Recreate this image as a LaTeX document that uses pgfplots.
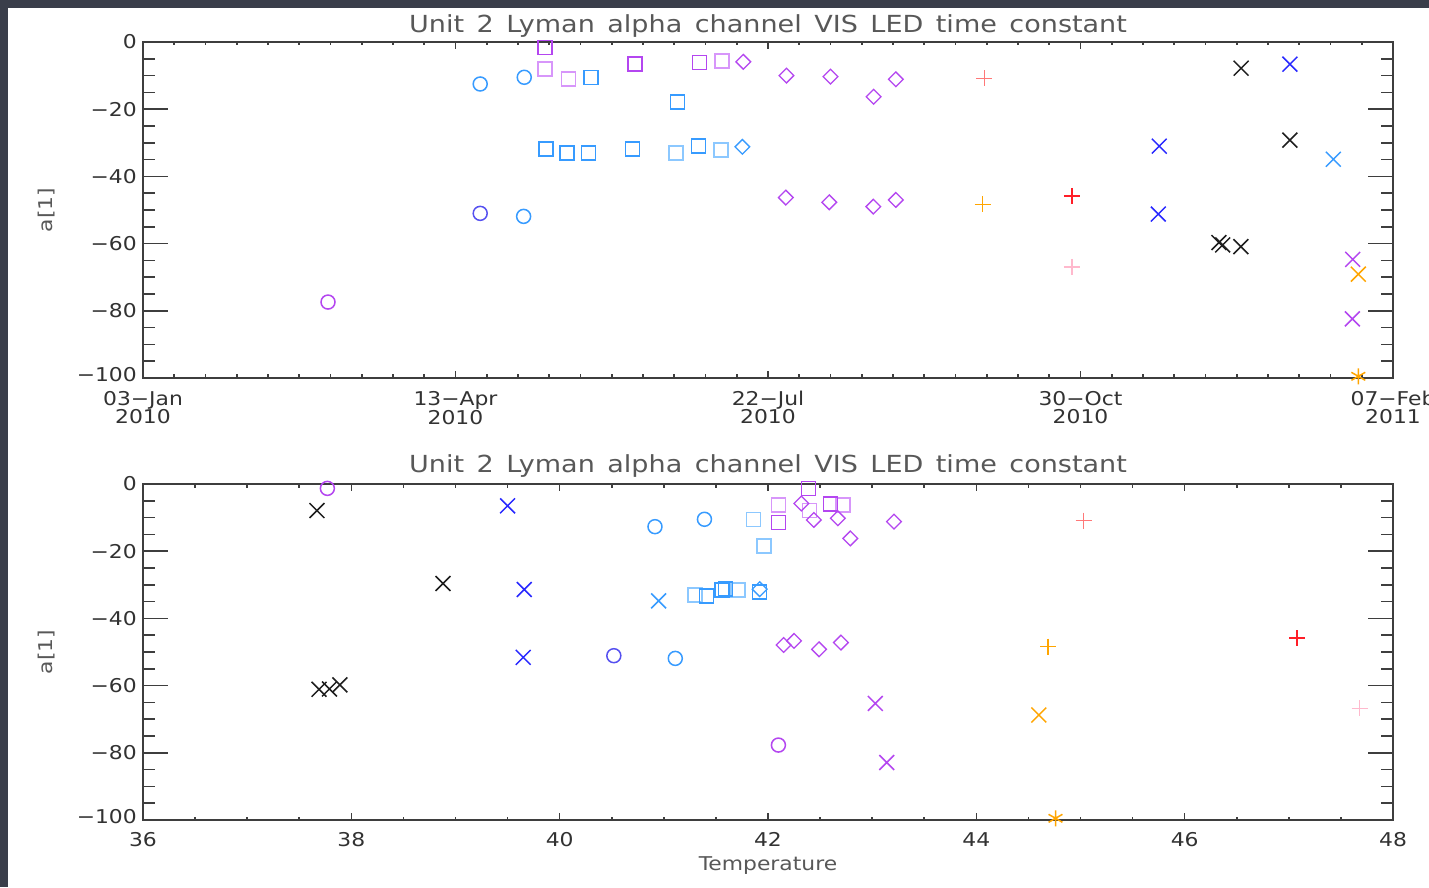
\documentclass[border=0pt]{standalone}
\usepackage{fontspec}
\setmainfont{DejaVu Sans}[FakeStretch=1.15]
\usepackage{pgfplots}
\pgfplotsset{compat=1.18}
\definecolor{bgdark}{RGB}{58,62,74}
\definecolor{axc}{RGB}{62,62,62}
\definecolor{tickc}{RGB}{50,50,50}
\definecolor{titc}{RGB}{88,88,88}
\definecolor{vio}{RGB}{180,70,240}
\definecolor{lvio}{RGB}{215,150,250}
\definecolor{lblue}{RGB}{55,155,255}
\definecolor{llblue}{RGB}{140,200,255}
\definecolor{dblue}{RGB}{40,40,255}
\definecolor{cblue}{RGB}{85,80,240}
\definecolor{blk}{RGB}{30,30,30}
\definecolor{red1}{RGB}{255,30,40}
\definecolor{lred}{RGB}{255,120,120}
\definecolor{pink1}{RGB}{255,185,205}
\definecolor{orng}{RGB}{255,165,0}
\newcommand{\tickfont}{\fontsize{19}{18}\selectfont}
\newcommand{\titlefont}{\fontsize{23.5}{26}\selectfont}
\pgfplotsset{
  base/.style={scale only axis, width=1250pt, height=336pt, ymin=-100, ymax=0,
    clip=false, tick align=inside,
    axis line style={draw=axc, line width=1.8pt},
    tick style={draw=axc, line width=1.6pt},
    every axis title/.style={at={(0.5,1)}, anchor=base, font=\titlefont, text=titc},
  },
  xpart/.style={ytick=\empty, major tick length=7pt, minor tick length=3.5pt},
  ypart/.style={xtick=\empty, ytick={-100,-80,-60,-40,-20,0},
    yticklabels={\raisebox{7pt}{−100},−80,−60,−40,−20,\raisebox{-7pt}{0}},
    minor y tick num=3, major tick length=25pt, minor tick length=12pt,
    axis line style={draw=none},
    yticklabel style={anchor=east, inner sep=0pt, xshift=-6pt, font=\tickfont, text=tickc},
    ylabel={a[1]},
    every axis y label/.style={at={(axis description cs:0,0.5)}, xshift=-96pt, rotate=90, anchor=center, font=\tickfont, text=titc},
  },
  circ/.style={only marks, mark=o, mark size=7pt, mark options={line width=1.5pt, solid, draw=#1}, color=#1},
  sq/.style={only marks, mark=square, mark size=7pt, mark options={line width=1.5pt, solid, draw=#1}, color=#1},
  dia/.style={only marks, mark=square, mark size=5.2pt, mark options={line width=1.3pt, solid, rotate=45, draw=#1}, color=#1},
  crs/.style={only marks, mark=x, mark size=10.5pt, mark options={line width=1.5pt, solid, draw=#1}, color=#1},
  pls/.style={only marks, mark=+, mark size=8pt, mark options={line width=1.5pt, solid, draw=#1}, color=#1},
  ast/.style={only marks, mark=asterisk, mark size=8pt, mark options={line width=1.5pt, solid, draw=#1}, color=#1},
}
\begin{document}
\begin{tikzpicture}[x=1pt,y=1pt]
\useasboundingbox (0,0) rectangle (1429,887);
\clip (0,0) rectangle (1429,887);
\fill[bgdark] (0,0) rectangle (1429,887);
\fill[white] (8,0) rectangle (1429,879);

% ---------------- top panel: time ----------------
\begin{axis}[base, xpart, at={(143pt,509pt)}, anchor=south west,
  xmin=0, xmax=400, xtick={0,100,200,300,400}, minor x tick num=9,
  xticklabels={{03−Jan\\2010},{13−Apr\\2010},{22−Jul\\2010},{30−Oct\\2010},{07−Feb\\2011}},
  xticklabel style={align=center, font=\tickfont, text=tickc, anchor=north, inner sep=0pt, yshift=-13pt},
  title={Unit\, 2\, Lyman\, alpha\, channel\, VIS\, LED\, time\, constant},
  title style={yshift=9pt}]
\addplot[circ=vio] coordinates {(59.2,-77.4)};
\addplot[circ=lblue] coordinates {(107.9,-12.5) (122.0,-10.5) (121.8,-51.9)};
\addplot[circ=cblue] coordinates {(107.9,-51.0)};
\addplot[sq=vio] coordinates {(128.6,-1.6) (157.5,-6.6) (178.0,-6.1)};
\addplot[sq=lvio] coordinates {(128.6,-8.0) (136.1,-11.0) (185.2,-5.7)};
\addplot[sq=lblue] coordinates {(128.9,-31.8) (135.6,-33.1) (142.5,-33.1) (143.4,-10.6) (156.7,-31.8) (171.0,-17.9) (177.7,-31.0)};
\addplot[sq=llblue] coordinates {(170.6,-33.1) (185.0,-32.1)};
\addplot[dia=vio] coordinates {(192.1,-5.9) (205.9,-10.0) (205.7,-46.3) (220.0,-10.3) (219.6,-47.7) (233.8,-16.3) (233.7,-49.0) (240.9,-11.1) (240.9,-47.0)};
\addplot[dia=lblue] coordinates {(191.8,-31.2)};
\addplot[pls=lred] coordinates {(269.2,-10.8)};
\addplot[pls=orng] coordinates {(268.7,-48.3)};
\addplot[pls=red1] coordinates {(297.2,-45.8)};
\addplot[pls=pink1] coordinates {(297.2,-66.9)};
\addplot[crs=dblue] coordinates {(325.2,-31.0) (324.9,-51.2) (367.0,-6.6)};
\addplot[crs=blk] coordinates {(344.3,-59.7) (345.5,-60.4) (351.3,-60.9) (351.4,-7.8) (367.0,-29.2)};
\addplot[crs=lblue] coordinates {(380.9,-34.9)};
\addplot[crs=vio] coordinates {(387.1,-64.7) (387.0,-82.4)};
\addplot[crs=orng] coordinates {(388.9,-69.1)};
\addplot[ast=orng] coordinates {(388.9,-99.5)};
\end{axis}
\begin{axis}[base, ypart, at={(143pt,509pt)}, anchor=south west, xmin=0, xmax=400]
\end{axis}

% ---------------- bottom panel: temperature ----------------
\begin{axis}[base, xpart, at={(143pt,67pt)}, anchor=south west,
  xmin=36, xmax=48, xtick={36,38,40,42,44,46,48}, minor x tick num=3,
  xticklabels={36,38,40,42,44,46,48},
  xticklabel style={font=\tickfont, text=tickc, anchor=north, inner sep=0pt, yshift=-12pt},
  xlabel={Temperature},
  every axis x label/.style={at={(axis description cs:0.5,0)}, anchor=base, yshift=-50pt, font=\tickfont, text=titc},
  title={Unit\, 2\, Lyman\, alpha\, channel\, VIS\, LED\, time\, constant},
  title style={yshift=11pt}]
\addplot[circ=vio] coordinates {(37.77,-1.3) (42.10,-77.7)};
\addplot[circ=lblue] coordinates {(40.915,-12.7) (41.39,-10.5) (41.11,-51.9)};
\addplot[circ=cblue] coordinates {(40.52,-51.1)};
\addplot[sq=lvio] coordinates {(42.10,-6.25) (42.40,-7.9) (42.72,-6.25)};
\addplot[sq=vio] coordinates {(42.39,-1.3) (42.60,-6.0) (42.10,-11.4)};
\addplot[sq=llblue] coordinates {(41.30,-33.0) (41.71,-31.5) (41.86,-10.5) (41.96,-18.5)};
\addplot[sq=lblue] coordinates {(41.41,-33.3) (41.56,-31.5) (41.59,-31.3) (41.92,-32.2)};
\addplot[dia=lblue] coordinates {(41.92,-31.3)};
\addplot[dia=vio] coordinates {(42.32,-5.8) (42.44,-10.7) (42.67,-10.2) (42.79,-16.2) (43.21,-11.2) (42.15,-47.9) (42.25,-46.7) (42.49,-49.2) (42.70,-47.2)};
\addplot[crs=blk] coordinates {(37.67,-7.9) (38.88,-29.6) (37.69,-61.1) (37.79,-61.0) (37.89,-59.8)};
\addplot[crs=dblue] coordinates {(39.50,-6.5) (39.66,-31.4) (39.65,-51.6)};
\addplot[crs=lblue] coordinates {(40.95,-34.8)};
\addplot[crs=vio] coordinates {(43.03,-65.3) (43.14,-82.9)};
\addplot[crs=orng] coordinates {(44.60,-68.75)};
\addplot[ast=orng] coordinates {(44.76,-99.5)};
\addplot[pls=lred] coordinates {(45.03,-10.9)};
\addplot[pls=orng] coordinates {(44.69,-48.4)};
\addplot[pls=red1] coordinates {(47.08,-45.9)};
\addplot[pls=pink1] coordinates {(47.68,-66.8)};
\end{axis}
\begin{axis}[base, ypart, at={(143pt,67pt)}, anchor=south west, xmin=36, xmax=48]
\end{axis}
\end{tikzpicture}
\end{document}
